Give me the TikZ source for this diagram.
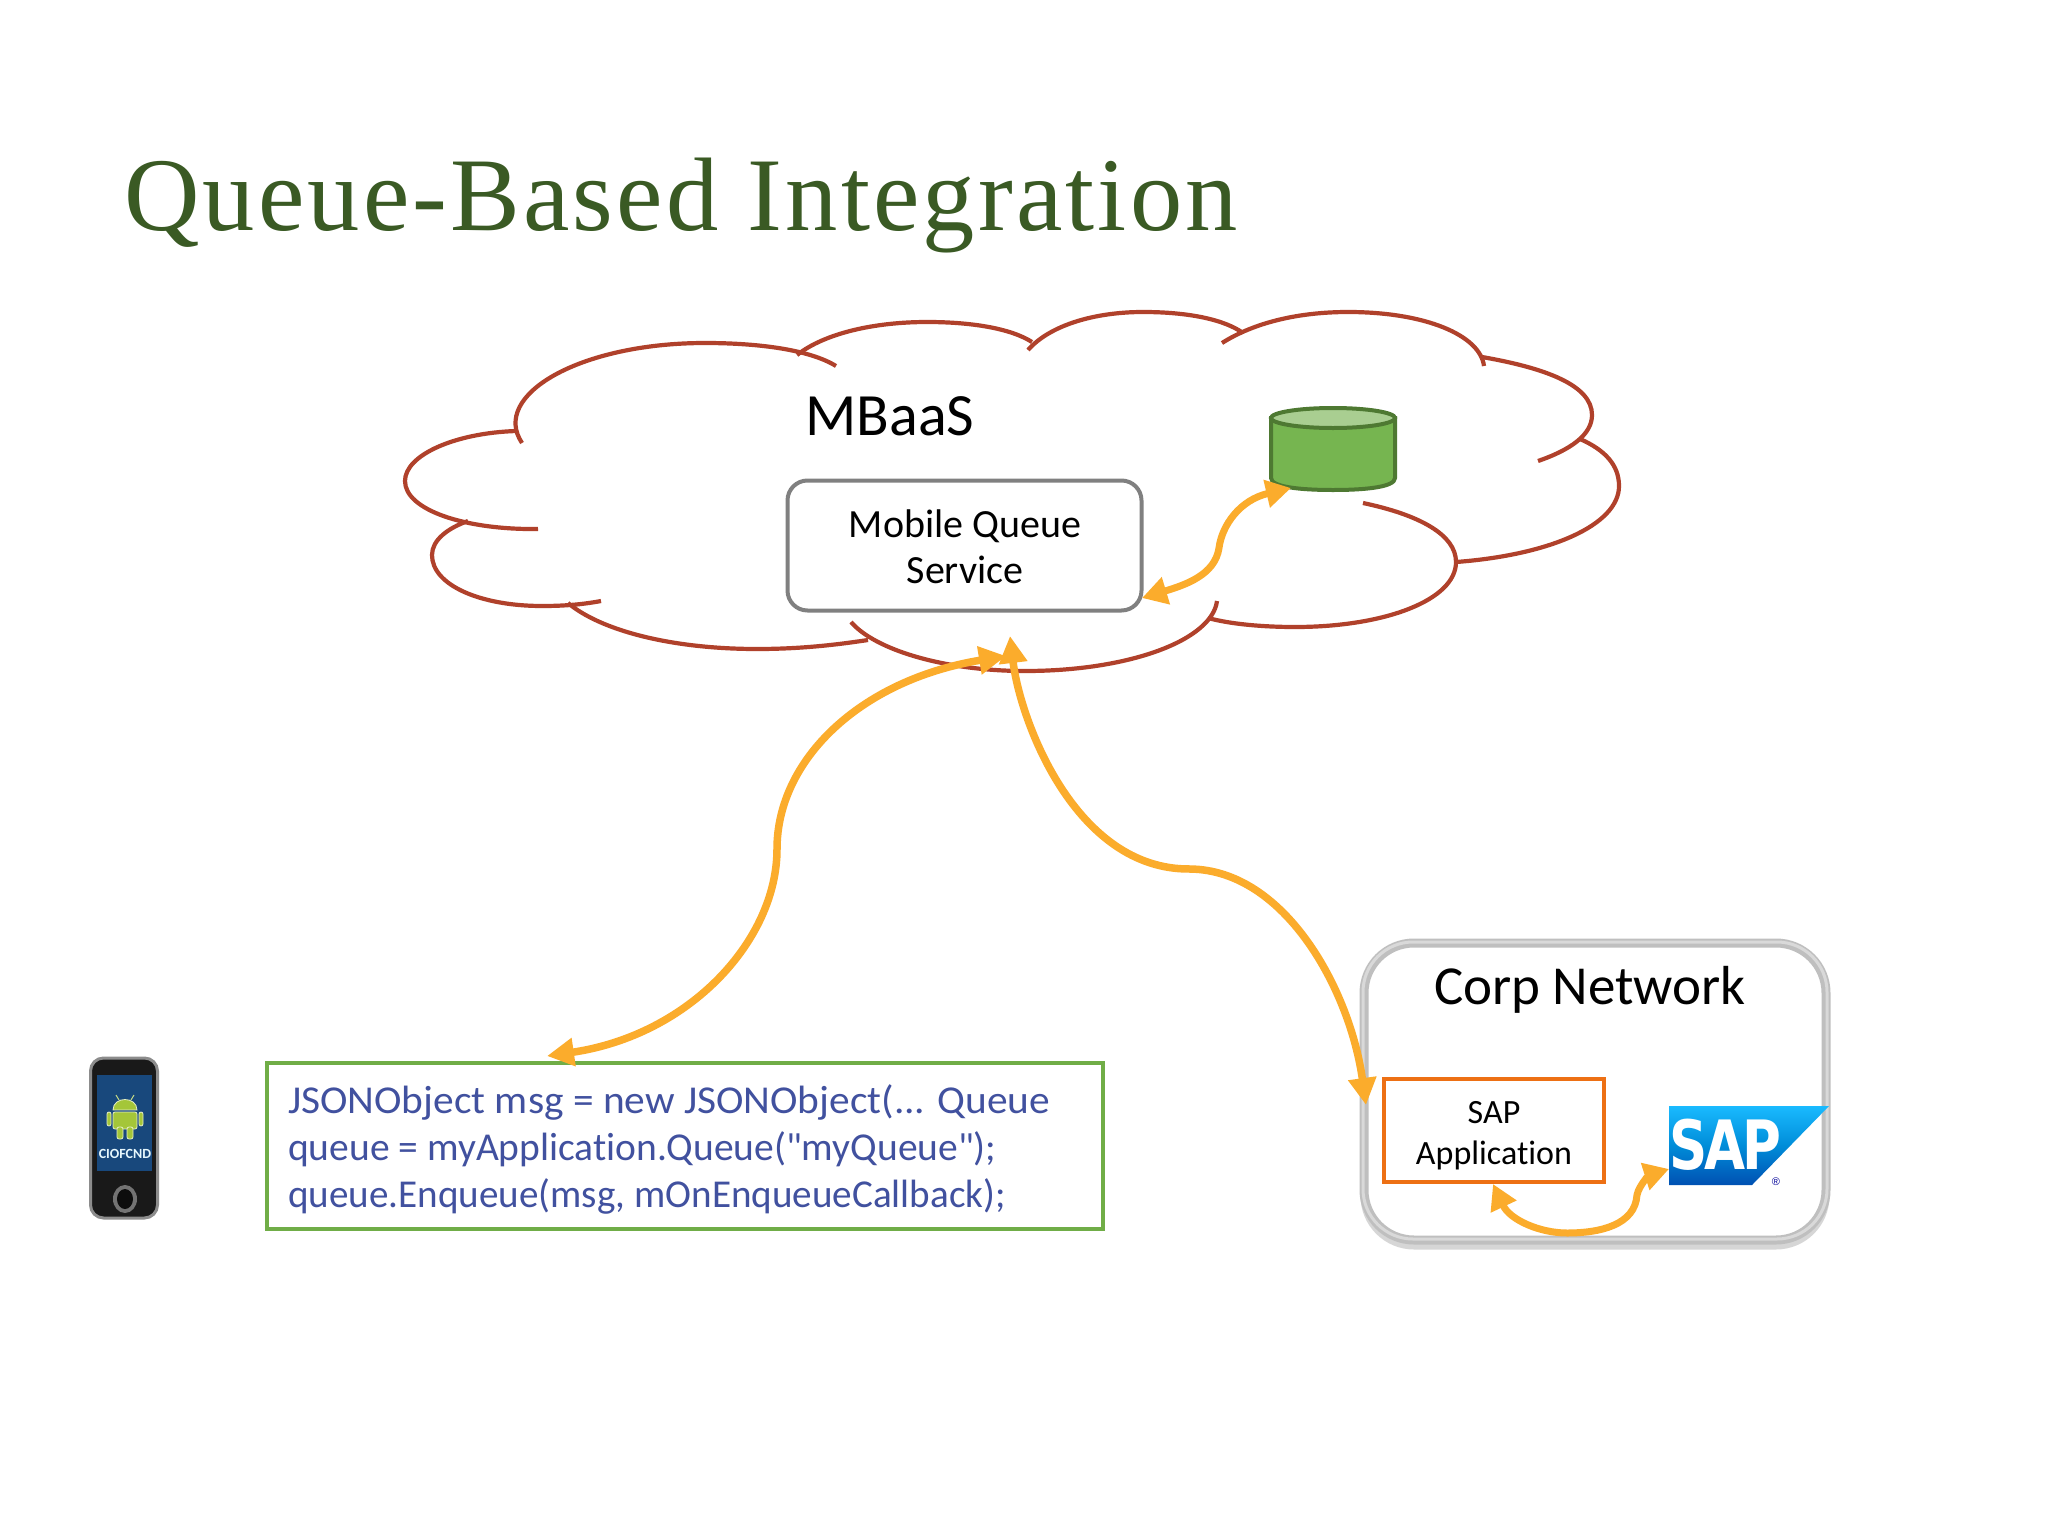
\documentclass[tikz,border=0pt]{standalone}
\usepackage{fontspec}
\usepackage{graphicx}
\setsansfont[Ligatures=NoCommon]{Carlito}
\newfontfamily\logofont[LetterSpace=-6]{DejaVu Sans}
\newfontfamily\regfont{Liberation Sans}
\newfontfamily\titlefont[LetterSpace=3]{Liberation Serif}
\newfontfamily\codefont[Ligatures=NoCommon,Mapping=]{Carlito}
\usetikzlibrary{arrows.meta,calc}
\definecolor{cloudred}{HTML}{B0412B}
\definecolor{titlegreen}{HTML}{3A5A24}
\definecolor{arrowor}{HTML}{FBAC2C}
\definecolor{codeblue}{HTML}{41519F}
\definecolor{boxgreen}{HTML}{70AD47}
\definecolor{dbgreen}{HTML}{76B550}
\definecolor{appor}{HTML}{ED7014}
\definecolor{droid}{HTML}{A4C639}
\tikzset{
  cloudline/.style={draw=cloudred,line width=4.2pt},
  flow/.style={draw=arrowor,line width=7.5pt,{Triangle[length=27pt,width=27pt]}-{Triangle[length=27pt,width=27pt]}},
  smallflow/.style={draw=arrowor,line width=7pt,{Triangle[length=25pt,width=27pt]}-{Triangle[length=25pt,width=27pt]}},
  bodytext/.style={font=\sffamily\fontsize{40}{46}\selectfont,text=black,align=center,inner sep=0pt},
}
\begin{document}
\begin{tikzpicture}[x=1pt,y=-1pt]
\useasboundingbox (0,0) rectangle (2048,1536);
\fill[white] (0,0) rectangle (2048,1536);
% title
\node[anchor=west,inner sep=0pt,text=titlegreen,font=\titlefont\fontsize{104.5}{112}\selectfont] (title) at (124,206) {Queue-Based Integration};
% cloud
\draw[cloudline] (522,443) .. controls (490,395) and (580,343) .. (705,343) .. controls (760,343) and (810,350) .. (836,366);
\draw[cloudline] (797,355) .. controls (825,333) and (875,322) .. (927,322) .. controls (970,322) and (1010,328) .. (1032,342);
\draw[cloudline] (1028,350) .. controls (1050,325) and (1095,312) .. (1143,312) .. controls (1190,312) and (1225,320) .. (1243,333);
\draw[cloudline] (1222,343) .. controls (1255,322) and (1300,312) .. (1348,312) .. controls (1425,312) and (1480,335) .. (1484,366);
\draw[cloudline] (1482,357) .. controls (1545,368) and (1592,385) .. (1592,415) .. controls (1592,435) and (1570,450) .. (1538,461);
\draw[cloudline] (1580,439) .. controls (1605,450) and (1619,465) .. (1619,486) .. controls (1619,525) and (1550,555) .. (1456,562);
\draw[cloudline] (1363,503) .. controls (1420,515) and (1456,535) .. (1456,562) .. controls (1456,600) and (1385,627) .. (1295,627) .. controls (1262,627) and (1230,624) .. (1208,618);
\draw[cloudline] (1217,601) .. controls (1212,640) and (1130,671) .. (1025,671) .. controls (945,671) and (875,650) .. (851,622);
\draw[cloudline] (868,640) .. controls (835,645) and (800,649) .. (757,649) .. controls (670,649) and (600,630) .. (568,603);
\draw[cloudline] (601,601) .. controls (580,605) and (560,606) .. (542,606) .. controls (480,606) and (432,585) .. (432,555) .. controls (432,540) and (448,528) .. (468,521);
\draw[cloudline] (538,529) .. controls (465,530) and (405,510) .. (405,481) .. controls (405,455) and (455,433) .. (516,431);
\node[font=\sffamily\fontsize{60}{64}\selectfont,inner sep=0pt] (mbaas) at (890,416) {MBaaS};
% queue service
\node[draw=black!50,line width=4pt,rounded corners=20pt,minimum width=354pt,minimum height=130pt,inner sep=0pt] (mqs) at (964.5,545.5) {};
\node[bodytext] (mqstext) at (965,547) {Mobile Queue\\Service};
% database
\path[fill=dbgreen,draw=boxgreen!70!black,line width=4pt]
  (1271,418) -- (1271,478) .. controls (1271,487) and (1300,490) .. (1333,490) .. controls (1366,490) and (1395,487) .. (1395,478) -- (1395,418) -- cycle;
\path[fill=boxgreen!60!white,draw=boxgreen!70!black,line width=4pt] (1333,418) ellipse[x radius=62,y radius=10];
\node[inner sep=0pt,minimum width=124pt,minimum height=85pt] (db) at (1333,449) {};
% code box
\node[draw=boxgreen,line width=4pt,minimum width=836pt,minimum height=166pt,inner sep=0pt] (code) at (685,1146) {};
\node[anchor=west,align=left,inner sep=0pt,text=codeblue,font=\codefont\fontsize{39.5}{47}\selectfont] (codetext) at (288,1149)
 {\scalebox{1.048}[1]{JSONObject msg = new JSONObject(... Queue}\\\scalebox{1.0}[1]{queue = myApplication.Queue("myQueue");}\\\scalebox{.99}[1]{queue.Enqueue(msg, mOnEnqueueCallback);}};
% phone
\node[draw=black!45,line width=3pt,fill=black!90,rounded corners=13pt,minimum width=67pt,minimum height=160pt,inner sep=0pt] (phone) at (124,1138) {};
\node[fill={rgb,255:red,24;green,72;blue,124},minimum width=55pt,minimum height=96pt,inner sep=0pt] (screen) at (124.5,1123) {};
\begin{scope}[shift={(125,1115)},droidpart/.style={fill=droid,draw=white!70!droid,line width=.8pt}]
  \path[droidpart] (-12,-5) .. controls (-12,-19) and (12,-19) .. (12,-5) -- cycle;
  \path[droidpart,rounded corners=2pt] (-12,-3) rectangle (12,14);
  \path[droidpart,rounded corners=2pt] (-18,-3) rectangle (-14,11);
  \path[droidpart,rounded corners=2pt] (14,-3) rectangle (18,11);
  \path[droidpart,rounded corners=2pt] (-8,12) rectangle (-2,24);
  \path[droidpart,rounded corners=2pt] (2,12) rectangle (8,24);
  \draw[white!40!droid,line width=1pt] (-6,-15) -- (-9,-20) (6,-15) -- (9,-20);
\end{scope}
\node[text=cyan!10!white,font=\sffamily\bfseries\fontsize{14}{14}\selectfont,inner sep=0pt] (brand) at (125,1154) {CIOFCND};
\fill[black!55] (125,1199) ellipse[x radius=12,y radius=14];
\fill[black!95] (125,1199) ellipse[x radius=8,y radius=10];
% corp network
\begin{scope}[rounded corners=50pt]
  \draw[black!45,line width=7pt,opacity=.35] (1364,949) rectangle (1826,1246);
  \draw[black!25,line width=9pt,fill=white] (1364,943) rectangle (1826,1240);
  \draw[white!85!black,line width=3pt] (1363,942) rectangle (1827,1239);
\end{scope}
\node[coordinate] (corp) at (1595,1091) {};
\node[font=\sffamily\fontsize{55}{60}\selectfont,inner sep=0pt] (corptext) at (1590,990) {Corp Network};
\node[draw=appor,line width=4pt,fill=white,minimum width=220pt,minimum height=103pt,inner sep=0pt] (app) at (1494,1130.5) {};
\node[bodytext,font=\sffamily\fontsize{34}{41}\selectfont] (apptext) at (1494,1135.5) {SAP\\Application};
% sap logo
\shade[top color=cyan!70!blue!90,bottom color=blue!55!cyan!70!black,middle color=blue!35!cyan!85!black] (1669,1106) -- (1829,1106) -- (1752,1185) -- (1669,1185) -- cycle;
\node[coordinate] (saplogo) at (1669,1169) {};
\node[text=white,inner sep=0pt,anchor=base west,xscale=.78,font=\logofont\bfseries\fontsize{68}{68}\selectfont] (saptext) at (1669,1169) {SAP};
\node[text=blue!60!black,inner sep=0pt,font=\regfont\fontsize{11}{12}\selectfont] (reg) at (1776,1182) {®};
% connectors
\coordinate (dbend) at (1291,488);
\coordinate (mqsend) at (1142,598);
\draw[smallflow] (dbend) .. controls (1240,500) and (1222,525) .. (1219,548) .. controls (1215,575) and (1185,585) .. (mqsend);
\coordinate (cloudL) at (1006,656);
\coordinate (codeend) at (547,1056);
\draw[flow] (codeend) .. controls (690,1035) and (777,940) .. (777,849) .. controls (777,760) and (860,680) .. (cloudL);
\coordinate (cloudR) at (1010,636);
\coordinate (corpend) at (1366,1105);
\draw[flow] (cloudR) .. controls (1020,720) and (1075,870) .. (1190,869) .. controls (1285,870) and (1350,990) .. (corpend);
\coordinate (append) at (1493,1184);
\draw[smallflow] (append) .. controls (1510,1220) and (1540,1233) .. (1567,1233) .. controls (1600,1233) and (1635,1225) .. (1637,1195) .. controls (1639,1185) and (1650,1175) .. (saplogo);
\end{tikzpicture}
\end{document}
